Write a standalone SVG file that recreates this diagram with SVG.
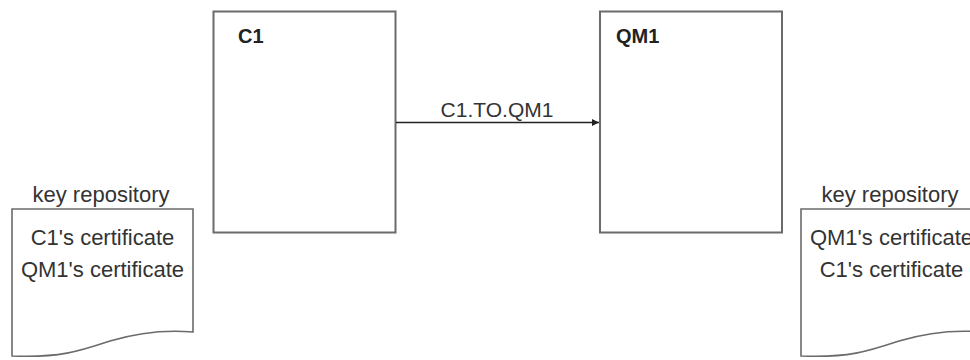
<svg xmlns="http://www.w3.org/2000/svg" width="970" height="360" viewBox="0 0 970 360">
<defs>
<style>
.box{fill:#fff;stroke:#6b6b6b;stroke-width:2}
.doc{fill:#fff;stroke:#6b6b6b;stroke-width:1.6}
.t{font-family:"Liberation Sans",Arial,sans-serif;font-size:22px;fill:#333}
.l{font-family:"Liberation Sans",Arial,sans-serif;font-size:21px;fill:#333}
.b{font-family:"Liberation Sans",Arial,sans-serif;font-size:20px;font-weight:bold;fill:#222}
.conn{stroke:#222;stroke-width:1.5;fill:none}
</style>
<marker id="arr" markerWidth="8" markerHeight="8" refX="7" refY="3.5" orient="auto" markerUnits="userSpaceOnUse">
<path d="M0,0 L7,3.5 L0,7 Z" fill="#222"/>
</marker>
</defs>
<rect width="970" height="360" fill="#fff"/>
<g id="C1">
<rect class="box" x="213.5" y="11.5" width="182" height="221"/>
<text class="b" x="238" y="43">C1</text>
</g>
<g id="QM1">
<rect class="box" x="600" y="11.5" width="182" height="221"/>
<text class="b" x="616" y="43">QM1</text>
</g>
<g id="repo-left">
<text class="t" x="101" y="202" text-anchor="middle">key repository</text>
<path class="doc" d="M12,209 H193 V332 C170,330 140,332 110,341 C80,351 60,358 12,356 Z"/>
<text class="t" x="102.5" y="245" text-anchor="middle">C1's certificate</text>
<text class="t" x="102.5" y="277" text-anchor="middle">QM1's certificate</text>
</g>
<g id="repo-right">
<text class="t" x="890" y="202" text-anchor="middle">key repository</text>
<path class="doc" d="M801,209 H982 V332 C959,330 929,332 899,341 C869,351 849,358 801,356 Z"/>
<text class="t" x="891.5" y="245" text-anchor="middle">QM1's certificate</text>
<text class="t" x="891.5" y="277" text-anchor="middle">C1's certificate</text>
</g>
<g id="connectors">
<line class="conn" x1="396" y1="122.5" x2="599" y2="122.5" marker-end="url(#arr)"/>
<text class="l" x="497" y="117" text-anchor="middle">C1.TO.QM1</text>
</g>
</svg>
